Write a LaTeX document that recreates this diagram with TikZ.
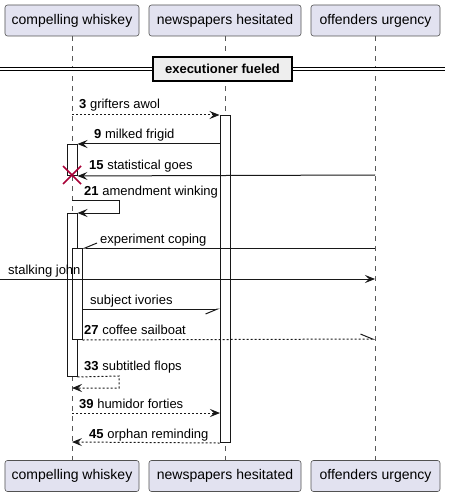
\documentclass[tikz,border=0pt]{standalone}
\usepackage{fontspec}
\setmainfont{Liberation Sans}
\usepackage{xcolor}
\usetikzlibrary{arrows.meta,positioning}
\definecolor{partfill}{HTML}{E2E2F0}
\definecolor{partdraw}{HTML}{181818}
\definecolor{destroyc}{HTML}{A80036}
\definecolor{dividerc}{HTML}{EEEEEE}
\tikzset{
  partnode/.style={rectangle, rounded corners=2.5bp, draw=partdraw!75, fill=partfill,
    line width=0.6bp, minimum height=31bp, inner xsep=4bp, font=\fontsize{14bp}{16bp}\selectfont},
  actbar/.style={rectangle, draw=partdraw, fill=white, line width=1bp,
    minimum width=10bp, inner sep=0pt, anchor=north},
  dividernode/.style={rectangle, draw=black, fill=dividerc, line width=1.6bp,
    minimum width=139bp, minimum height=24bp, font=\fontsize{13bp}{15bp}\selectfont\bfseries},
  lifeline/.style={draw=black!65, line width=0.6bp, dash pattern=on 5bp off 5bp},
  msglabel/.style={anchor=base west, inner sep=0pt, font=\fontsize{13bp}{15bp}\selectfont},
  syncedge/.style={-{Stealth[length=10bp, width=8bp, inset=4bp]}, draw=partdraw, line width=1bp},
  replyedge/.style={syncedge, dash pattern=on 2bp off 2bp},
  upharpedge/.style={-{Straight Barb[harpoon, length=12bp, width=10bp]}, draw=partdraw, line width=1bp},
  downharpedge/.style={-{Straight Barb[harpoon, swap, length=12bp, width=10bp]}, draw=partdraw, line width=1bp},
}

\begin{document}
\begin{tikzpicture}[x=1bp, y=-1bp]
  \useasboundingbox (0,0) rectangle (451,497);
  % participants
  \node[partnode, minimum width=134bp] (cwTop) at (72,20.5) {compelling whiskey};
  \node[partnode, minimum width=152bp] (nhTop) at (225,20.5) {newspapers hesitated};
  \node[partnode, minimum width=129bp] (ouTop) at (375.5,20.5) {offenders urgency};
  \node[partnode, minimum width=134bp] (cwBot) at (72,476) {compelling whiskey};
  \node[partnode, minimum width=152bp] (nhBot) at (225,476) {newspapers hesitated};
  \node[partnode, minimum width=129bp] (ouBot) at (375.5,476) {offenders urgency};
  \draw[lifeline] (cwTop) -- (cwBot);
  \draw[lifeline] (nhTop) -- (nhBot);
  \draw[lifeline] (ouTop) -- (ouBot);

  % divider
  \coordinate (dvL) at (0,69);
  \coordinate (dvR) at (445,69);
  \draw[double, double distance=2.5bp, line width=1bp] (dvL) -- (dvR);
  \node[dividernode] (dvBox) at (222.5,69) {executioner fueled};

  % activations
  \node[actbar, minimum height=327bp] (nhAct) at (225,115) {};
  \node[actbar, minimum height=31bp] (cwActA) at (72,144) {};
  \node[actbar, minimum height=163bp] (cwActB) at (72,213) {};
  \node[actbar, minimum height=91bp] (cwActC) at (77,248) {};

  % message ends
  \coordinate (cw115) at (72,115);
  \coordinate (nh144) at (220,144);
  \coordinate (ou175) at (375,175);
  \coordinate (cw200) at (72,200);
  \coordinate (self21) at (119,200);
  \coordinate (ou248) at (375,248);
  \coordinate (found) at (0,279);
  \coordinate (ou279) at (375,279);
  \coordinate (cw309) at (82,309);
  \coordinate (nh309) at (220,309);
  \coordinate (ou339) at (375,339);
  \coordinate (self33) at (119,376);
  \coordinate (cw388) at (72,388);
  \coordinate (cw413) at (72,413);
  \coordinate (nh413) at (220,413);
  \coordinate (cw442) at (72,442);

  % messages
  \draw[replyedge] (cw115) -- (nhAct.north west);
  \node[msglabel] (l3) at (79,109) {\textbf{3} grifters awol};
  \draw[syncedge] (nh144) -- (cwActA.north east);
  \node[msglabel] (l9) at (94,139) {\textbf{9} milked frigid};
  \draw[syncedge] (ou175) -- (cwActA.south east);
  \node[msglabel] (l15) at (89,170) {\textbf{15} statistical goes};
  \draw[destroyc, line width=1.5bp] (63,166) -- (81,184) (63,184) -- (81,166);
  \draw[syncedge] (cw200) -- (self21) |- (cwActB.north east);
  \node[msglabel] (l21) at (84,196) {\textbf{21} amendment winking};
  \draw[downharpedge] (ou248) -- (cwActC.north east);
  \node[msglabel] (lcoping) at (100,243) {experiment coping};
  \draw[syncedge] (found) -- (ou279);
  \node[msglabel] (lstalk) at (8,274) {stalking john};
  \draw[downharpedge] (cw309) -- (nh309);
  \node[msglabel] (livories) at (90,304) {subject ivories};
  \draw[upharpedge, dash pattern=on 2bp off 2bp] (cwActC.south east) -- (ou339);
  \node[msglabel] (l27) at (84,334.5) {\textbf{27} coffee sailboat};
  \draw[replyedge] (cwActB.south east) -- (self33) |- (cw388);
  \node[msglabel] (l33) at (84,370) {\textbf{33} subtitled flops};
  \draw[replyedge] (cw413) -- (nh413);
  \node[msglabel] (l39) at (79,408) {\textbf{39} humidor forties};
  \draw[replyedge] (nhAct.south west) -- (cw442);
  \node[msglabel] (l45) at (89,438) {\textbf{45} orphan reminding};
\end{tikzpicture}
\end{document}
